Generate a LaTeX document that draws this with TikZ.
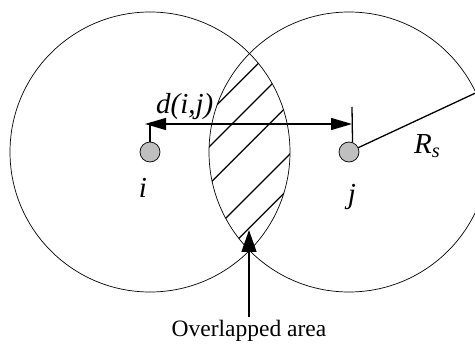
\documentclass[tikz,border=0pt]{standalone}
\usepackage{fontspec}
\setmainfont{Liberation Serif}
\usetikzlibrary{arrows.meta,positioning,calc}

\begin{document}
\begin{tikzpicture}[
  x=1pt, y=-1pt,
  font=\fontsize{23.5}{27}\selectfont,
  >={Triangle[length=21pt, width=12pt]},
  coverage/.style={draw, circle, line width=0.7pt, minimum size=280pt, inner sep=0pt, outer sep=0pt},
  sensor/.style={draw, circle, fill=black!25, line width=0.7pt, minimum size=20pt, inner sep=0pt},
  sym/.style={inner sep=0pt, font=\fontsize{29}{32}\selectfont\itshape},
  hatch/.style={line width=1.3pt},
  arrow/.style={->, line width=1.3pt}
]
\useasboundingbox (0,0) rectangle (475,345);

\node[coverage] (ri) at (150,152) {};
\node[coverage] (rj) at (349,152) {};

% the overlapped lens, hatched
\begin{scope}
  \clip (ri.center) circle (140);
  \clip (rj.center) circle (140);
  \foreach \c in {321.7,356,393.3,444,477.2}
    \draw[hatch] (\c,0) -- ({\c-300},300);
\end{scope}

\node[sensor] (i) at (150,152) {};
\node[sensor] (j) at (349,152) {};
\node[sym, anchor=base] (ilab) at (143,197) {i};
\node[sym, anchor=base] (jlab) at (352,204) {j};

% distance between the two sensors
\coordinate (tl) at (150,124);
\coordinate (tr) at (352,107);
\coordinate (dl) at (145,124);
\coordinate (dr) at (352,124);
\draw[line width=1.3pt] (tl) -- (i.north);
\draw[line width=1.3pt] (tr) -- (j.70);
\draw[arrow, <->] (dl) -- (dr);
\node[sym, anchor=base west] (dlab) at (156,114) {d(i,j)};

\draw[line width=1.3pt] (j) -- (rj.25);
\node[sym, anchor=base west] (rs) at (414,154) {R\textsubscript{s}};

\node (olab) at (249,331) {Overlapped area};
\coordinate (tip) at (249,230);
\draw[arrow, >={Triangle[length=22pt, width=15pt]}] (olab.north) -- (tip);
\end{tikzpicture}
\end{document}
